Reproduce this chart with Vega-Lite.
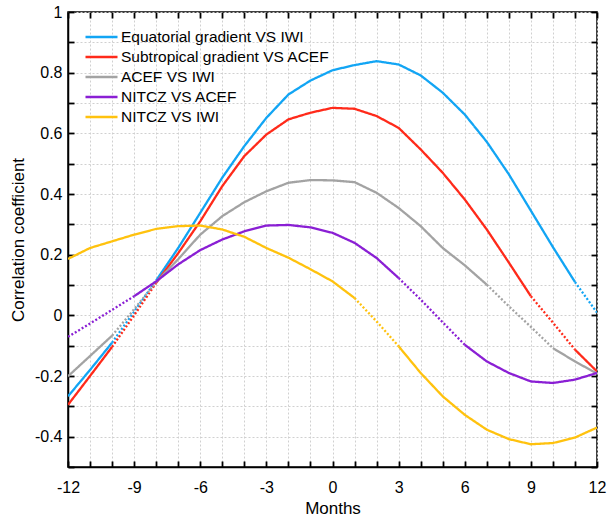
{
  "$schema": "https://vega.github.io/schema/vega-lite/v6.json",
  "width": 529,
  "height": 455,
  "autosize": "none",
  "padding": {"left": 68, "top": 12, "right": 11, "bottom": 51},
  "config": {
    "view": {"stroke": "black", "strokeWidth": 1.5},
    "font": "Liberation Sans",
    "axis": {"labelFont": "Liberation Sans", "titleFont": "Liberation Sans", "labelColor": "black", "titleColor": "black", "titleFontWeight": "normal", "domainColor": "black"}
  },
  "data": {"values": [
    {"series": "Equatorial gradient VS IWI", "seg": "E1", "sig": "s", "m": -12, "v": -0.267},
    {"series": "Equatorial gradient VS IWI", "seg": "E1", "sig": "s", "m": -11, "v": -0.18},
    {"series": "Equatorial gradient VS IWI", "seg": "E1", "sig": "s", "m": -10, "v": -0.09},
    {"series": "Equatorial gradient VS IWI", "seg": "E2", "sig": "n", "m": -10, "v": -0.09},
    {"series": "Equatorial gradient VS IWI", "seg": "E2", "sig": "n", "m": -9, "v": 0.012},
    {"series": "Equatorial gradient VS IWI", "seg": "E2", "sig": "n", "m": -8, "v": 0.115},
    {"series": "Equatorial gradient VS IWI", "seg": "E3", "sig": "s", "m": -8, "v": 0.115},
    {"series": "Equatorial gradient VS IWI", "seg": "E3", "sig": "s", "m": -7, "v": 0.222},
    {"series": "Equatorial gradient VS IWI", "seg": "E3", "sig": "s", "m": -6, "v": 0.338},
    {"series": "Equatorial gradient VS IWI", "seg": "E3", "sig": "s", "m": -5, "v": 0.454},
    {"series": "Equatorial gradient VS IWI", "seg": "E3", "sig": "s", "m": -4, "v": 0.558},
    {"series": "Equatorial gradient VS IWI", "seg": "E3", "sig": "s", "m": -3, "v": 0.651},
    {"series": "Equatorial gradient VS IWI", "seg": "E3", "sig": "s", "m": -2, "v": 0.728},
    {"series": "Equatorial gradient VS IWI", "seg": "E3", "sig": "s", "m": -1, "v": 0.774},
    {"series": "Equatorial gradient VS IWI", "seg": "E3", "sig": "s", "m": 0, "v": 0.808},
    {"series": "Equatorial gradient VS IWI", "seg": "E3", "sig": "s", "m": 1, "v": 0.825},
    {"series": "Equatorial gradient VS IWI", "seg": "E3", "sig": "s", "m": 2, "v": 0.838},
    {"series": "Equatorial gradient VS IWI", "seg": "E3", "sig": "s", "m": 3, "v": 0.827},
    {"series": "Equatorial gradient VS IWI", "seg": "E3", "sig": "s", "m": 4, "v": 0.791},
    {"series": "Equatorial gradient VS IWI", "seg": "E3", "sig": "s", "m": 5, "v": 0.734},
    {"series": "Equatorial gradient VS IWI", "seg": "E3", "sig": "s", "m": 6, "v": 0.662},
    {"series": "Equatorial gradient VS IWI", "seg": "E3", "sig": "s", "m": 7, "v": 0.572},
    {"series": "Equatorial gradient VS IWI", "seg": "E3", "sig": "s", "m": 8, "v": 0.465},
    {"series": "Equatorial gradient VS IWI", "seg": "E3", "sig": "s", "m": 9, "v": 0.345},
    {"series": "Equatorial gradient VS IWI", "seg": "E3", "sig": "s", "m": 10, "v": 0.225},
    {"series": "Equatorial gradient VS IWI", "seg": "E3", "sig": "s", "m": 11, "v": 0.11},
    {"series": "Equatorial gradient VS IWI", "seg": "E4", "sig": "n", "m": 11, "v": 0.11},
    {"series": "Equatorial gradient VS IWI", "seg": "E4", "sig": "n", "m": 12, "v": 0.009},

    {"series": "Subtropical gradient VS ACEF", "seg": "S1", "sig": "s", "m": -12, "v": -0.295},
    {"series": "Subtropical gradient VS ACEF", "seg": "S1", "sig": "s", "m": -11, "v": -0.2},
    {"series": "Subtropical gradient VS ACEF", "seg": "S1", "sig": "s", "m": -10, "v": -0.104},
    {"series": "Subtropical gradient VS ACEF", "seg": "S2", "sig": "n", "m": -10, "v": -0.104},
    {"series": "Subtropical gradient VS ACEF", "seg": "S2", "sig": "n", "m": -9, "v": 0.0},
    {"series": "Subtropical gradient VS ACEF", "seg": "S2", "sig": "n", "m": -8, "v": 0.107},
    {"series": "Subtropical gradient VS ACEF", "seg": "S3", "sig": "s", "m": -8, "v": 0.107},
    {"series": "Subtropical gradient VS ACEF", "seg": "S3", "sig": "s", "m": -7, "v": 0.205},
    {"series": "Subtropical gradient VS ACEF", "seg": "S3", "sig": "s", "m": -6, "v": 0.31},
    {"series": "Subtropical gradient VS ACEF", "seg": "S3", "sig": "s", "m": -5, "v": 0.426},
    {"series": "Subtropical gradient VS ACEF", "seg": "S3", "sig": "s", "m": -4, "v": 0.525},
    {"series": "Subtropical gradient VS ACEF", "seg": "S3", "sig": "s", "m": -3, "v": 0.596},
    {"series": "Subtropical gradient VS ACEF", "seg": "S3", "sig": "s", "m": -2, "v": 0.646},
    {"series": "Subtropical gradient VS ACEF", "seg": "S3", "sig": "s", "m": -1, "v": 0.668},
    {"series": "Subtropical gradient VS ACEF", "seg": "S3", "sig": "s", "m": 0, "v": 0.684},
    {"series": "Subtropical gradient VS ACEF", "seg": "S3", "sig": "s", "m": 1, "v": 0.681},
    {"series": "Subtropical gradient VS ACEF", "seg": "S3", "sig": "s", "m": 2, "v": 0.657},
    {"series": "Subtropical gradient VS ACEF", "seg": "S3", "sig": "s", "m": 3, "v": 0.618},
    {"series": "Subtropical gradient VS ACEF", "seg": "S3", "sig": "s", "m": 4, "v": 0.547},
    {"series": "Subtropical gradient VS ACEF", "seg": "S3", "sig": "s", "m": 5, "v": 0.47},
    {"series": "Subtropical gradient VS ACEF", "seg": "S3", "sig": "s", "m": 6, "v": 0.382},
    {"series": "Subtropical gradient VS ACEF", "seg": "S3", "sig": "s", "m": 7, "v": 0.283},
    {"series": "Subtropical gradient VS ACEF", "seg": "S3", "sig": "s", "m": 8, "v": 0.174},
    {"series": "Subtropical gradient VS ACEF", "seg": "S3", "sig": "s", "m": 9, "v": 0.063},
    {"series": "Subtropical gradient VS ACEF", "seg": "S4", "sig": "n", "m": 9, "v": 0.063},
    {"series": "Subtropical gradient VS ACEF", "seg": "S4", "sig": "n", "m": 10, "v": -0.024},
    {"series": "Subtropical gradient VS ACEF", "seg": "S4", "sig": "n", "m": 11, "v": -0.113},
    {"series": "Subtropical gradient VS ACEF", "seg": "S5", "sig": "s", "m": 11, "v": -0.113},
    {"series": "Subtropical gradient VS ACEF", "seg": "S5", "sig": "s", "m": 12, "v": -0.185},

    {"series": "ACEF VS IWI", "seg": "A1", "sig": "s", "m": -12, "v": -0.201},
    {"series": "ACEF VS IWI", "seg": "A1", "sig": "s", "m": -11, "v": -0.134},
    {"series": "ACEF VS IWI", "seg": "A1", "sig": "s", "m": -10, "v": -0.067},
    {"series": "ACEF VS IWI", "seg": "A2", "sig": "n", "m": -10, "v": -0.067},
    {"series": "ACEF VS IWI", "seg": "A2", "sig": "n", "m": -9, "v": 0.02},
    {"series": "ACEF VS IWI", "seg": "A2", "sig": "n", "m": -8, "v": 0.11},
    {"series": "ACEF VS IWI", "seg": "A3", "sig": "s", "m": -8, "v": 0.11},
    {"series": "ACEF VS IWI", "seg": "A3", "sig": "s", "m": -7, "v": 0.185},
    {"series": "ACEF VS IWI", "seg": "A3", "sig": "s", "m": -6, "v": 0.266},
    {"series": "ACEF VS IWI", "seg": "A3", "sig": "s", "m": -5, "v": 0.327},
    {"series": "ACEF VS IWI", "seg": "A3", "sig": "s", "m": -4, "v": 0.373},
    {"series": "ACEF VS IWI", "seg": "A3", "sig": "s", "m": -3, "v": 0.409},
    {"series": "ACEF VS IWI", "seg": "A3", "sig": "s", "m": -2, "v": 0.437},
    {"series": "ACEF VS IWI", "seg": "A3", "sig": "s", "m": -1, "v": 0.446},
    {"series": "ACEF VS IWI", "seg": "A3", "sig": "s", "m": 0, "v": 0.445},
    {"series": "ACEF VS IWI", "seg": "A3", "sig": "s", "m": 1, "v": 0.439},
    {"series": "ACEF VS IWI", "seg": "A3", "sig": "s", "m": 2, "v": 0.404},
    {"series": "ACEF VS IWI", "seg": "A3", "sig": "s", "m": 3, "v": 0.354},
    {"series": "ACEF VS IWI", "seg": "A3", "sig": "s", "m": 4, "v": 0.294},
    {"series": "ACEF VS IWI", "seg": "A3", "sig": "s", "m": 5, "v": 0.222},
    {"series": "ACEF VS IWI", "seg": "A3", "sig": "s", "m": 6, "v": 0.165},
    {"series": "ACEF VS IWI", "seg": "A3", "sig": "s", "m": 7, "v": 0.101},
    {"series": "ACEF VS IWI", "seg": "A4", "sig": "n", "m": 7, "v": 0.101},
    {"series": "ACEF VS IWI", "seg": "A4", "sig": "n", "m": 8, "v": 0.03},
    {"series": "ACEF VS IWI", "seg": "A4", "sig": "n", "m": 9, "v": -0.038},
    {"series": "ACEF VS IWI", "seg": "A4", "sig": "n", "m": 10, "v": -0.108},
    {"series": "ACEF VS IWI", "seg": "A5", "sig": "s", "m": 10, "v": -0.108},
    {"series": "ACEF VS IWI", "seg": "A5", "sig": "s", "m": 11, "v": -0.152},
    {"series": "ACEF VS IWI", "seg": "A5", "sig": "s", "m": 12, "v": -0.192},

    {"series": "NITCZ VS ACEF", "seg": "N1", "sig": "n", "m": -12, "v": -0.071},
    {"series": "NITCZ VS ACEF", "seg": "N1", "sig": "n", "m": -11, "v": -0.027},
    {"series": "NITCZ VS ACEF", "seg": "N1", "sig": "n", "m": -10, "v": 0.018},
    {"series": "NITCZ VS ACEF", "seg": "N1", "sig": "n", "m": -9, "v": 0.063},
    {"series": "NITCZ VS ACEF", "seg": "N2", "sig": "s", "m": -9, "v": 0.063},
    {"series": "NITCZ VS ACEF", "seg": "N2", "sig": "s", "m": -8, "v": 0.112},
    {"series": "NITCZ VS ACEF", "seg": "N2", "sig": "s", "m": -7, "v": 0.168},
    {"series": "NITCZ VS ACEF", "seg": "N2", "sig": "s", "m": -6, "v": 0.215},
    {"series": "NITCZ VS ACEF", "seg": "N2", "sig": "s", "m": -5, "v": 0.25},
    {"series": "NITCZ VS ACEF", "seg": "N2", "sig": "s", "m": -4, "v": 0.277},
    {"series": "NITCZ VS ACEF", "seg": "N2", "sig": "s", "m": -3, "v": 0.296},
    {"series": "NITCZ VS ACEF", "seg": "N2", "sig": "s", "m": -2, "v": 0.298},
    {"series": "NITCZ VS ACEF", "seg": "N2", "sig": "s", "m": -1, "v": 0.29},
    {"series": "NITCZ VS ACEF", "seg": "N2", "sig": "s", "m": 0, "v": 0.272},
    {"series": "NITCZ VS ACEF", "seg": "N2", "sig": "s", "m": 1, "v": 0.239},
    {"series": "NITCZ VS ACEF", "seg": "N2", "sig": "s", "m": 2, "v": 0.189},
    {"series": "NITCZ VS ACEF", "seg": "N2", "sig": "s", "m": 3, "v": 0.123},
    {"series": "NITCZ VS ACEF", "seg": "N3", "sig": "n", "m": 3, "v": 0.123},
    {"series": "NITCZ VS ACEF", "seg": "N3", "sig": "n", "m": 4, "v": 0.052},
    {"series": "NITCZ VS ACEF", "seg": "N3", "sig": "n", "m": 5, "v": -0.023},
    {"series": "NITCZ VS ACEF", "seg": "N3", "sig": "n", "m": 6, "v": -0.097},
    {"series": "NITCZ VS ACEF", "seg": "N4", "sig": "s", "m": 6, "v": -0.097},
    {"series": "NITCZ VS ACEF", "seg": "N4", "sig": "s", "m": 7, "v": -0.152},
    {"series": "NITCZ VS ACEF", "seg": "N4", "sig": "s", "m": 8, "v": -0.19},
    {"series": "NITCZ VS ACEF", "seg": "N4", "sig": "s", "m": 9, "v": -0.218},
    {"series": "NITCZ VS ACEF", "seg": "N4", "sig": "s", "m": 10, "v": -0.223},
    {"series": "NITCZ VS ACEF", "seg": "N4", "sig": "s", "m": 11, "v": -0.212},
    {"series": "NITCZ VS ACEF", "seg": "N4", "sig": "s", "m": 12, "v": -0.19},

    {"series": "NITCZ VS IWI", "seg": "I1", "sig": "s", "m": -12, "v": 0.186},
    {"series": "NITCZ VS IWI", "seg": "I1", "sig": "s", "m": -11, "v": 0.222},
    {"series": "NITCZ VS IWI", "seg": "I1", "sig": "s", "m": -10, "v": 0.244},
    {"series": "NITCZ VS IWI", "seg": "I1", "sig": "s", "m": -9, "v": 0.266},
    {"series": "NITCZ VS IWI", "seg": "I1", "sig": "s", "m": -8, "v": 0.285},
    {"series": "NITCZ VS IWI", "seg": "I1", "sig": "s", "m": -7, "v": 0.294},
    {"series": "NITCZ VS IWI", "seg": "I1", "sig": "s", "m": -6, "v": 0.296},
    {"series": "NITCZ VS IWI", "seg": "I1", "sig": "s", "m": -5, "v": 0.283},
    {"series": "NITCZ VS IWI", "seg": "I1", "sig": "s", "m": -4, "v": 0.259},
    {"series": "NITCZ VS IWI", "seg": "I1", "sig": "s", "m": -3, "v": 0.222},
    {"series": "NITCZ VS IWI", "seg": "I1", "sig": "s", "m": -2, "v": 0.19},
    {"series": "NITCZ VS IWI", "seg": "I1", "sig": "s", "m": -1, "v": 0.152},
    {"series": "NITCZ VS IWI", "seg": "I1", "sig": "s", "m": 0, "v": 0.112},
    {"series": "NITCZ VS IWI", "seg": "I1", "sig": "s", "m": 1, "v": 0.057},
    {"series": "NITCZ VS IWI", "seg": "I2", "sig": "n", "m": 1, "v": 0.057},
    {"series": "NITCZ VS IWI", "seg": "I2", "sig": "n", "m": 2, "v": -0.02},
    {"series": "NITCZ VS IWI", "seg": "I2", "sig": "n", "m": 3, "v": -0.102},
    {"series": "NITCZ VS IWI", "seg": "I3", "sig": "s", "m": 3, "v": -0.102},
    {"series": "NITCZ VS IWI", "seg": "I3", "sig": "s", "m": 4, "v": -0.19},
    {"series": "NITCZ VS IWI", "seg": "I3", "sig": "s", "m": 5, "v": -0.267},
    {"series": "NITCZ VS IWI", "seg": "I3", "sig": "s", "m": 6, "v": -0.328},
    {"series": "NITCZ VS IWI", "seg": "I3", "sig": "s", "m": 7, "v": -0.377},
    {"series": "NITCZ VS IWI", "seg": "I3", "sig": "s", "m": 8, "v": -0.408},
    {"series": "NITCZ VS IWI", "seg": "I3", "sig": "s", "m": 9, "v": -0.425},
    {"series": "NITCZ VS IWI", "seg": "I3", "sig": "s", "m": 10, "v": -0.421},
    {"series": "NITCZ VS IWI", "seg": "I3", "sig": "s", "m": 11, "v": -0.403},
    {"series": "NITCZ VS IWI", "seg": "I3", "sig": "s", "m": 12, "v": -0.37}
  ]},
  "layer": [
    {
      "mark": {"type": "line", "strokeWidth": 2.3, "clip": true},
      "encoding": {
        "x": {"field": "m", "type": "quantitative",
          "scale": {"domain": [-12, 12], "nice": false, "zero": false},
          "axis": {"orient": "bottom", "title": "Months", "titleFontSize": 17, "titlePadding": 5,
            "values": [-12,-11,-10,-9,-8,-7,-6,-5,-4,-3,-2,-1,0,1,2,3,4,5,6,7,8,9,10,11,12],
            "labelExpr": "datum.value % 3 === 0 ? '' + datum.value : ''",
            "labelFontSize": 16, "labelPadding": 18, "labelOverlap": false, "labelFlush": false,
            "ticks": true, "tickSize": -6, "tickColor": "black", "tickWidth": 1.8, "domainWidth": 1.5,
            "grid": true, "gridDash": [2, 2], "gridColor": "#d0d0d0", "gridWidth": 1}},
        "y": {"field": "v", "type": "quantitative",
          "scale": {"domain": [-0.5, 1], "nice": false, "zero": false},
          "axis": {"orient": "left", "title": "Correlation coefficient", "titleFontSize": 17, "titlePadding": 7,
            "values": [-0.5,-0.4,-0.3,-0.2,-0.1,0,0.1,0.2,0.3,0.4,0.5,0.6,0.7,0.8,0.9,1],
            "labelExpr": "abs(round(datum.value*10)) % 2 === 0 ? '' + round(datum.value*10)/10 : ''",
            "labelFontSize": 16, "labelPadding": 12, "labelOverlap": false, "labelFlush": false,
            "ticks": true, "tickSize": -6, "tickColor": "black", "tickWidth": 1.8, "domainWidth": 1.5,
            "grid": true, "gridDash": [2, 2], "gridColor": "#d0d0d0", "gridWidth": 1}},
        "color": {"field": "series", "type": "nominal",
          "scale": {"domain": ["Equatorial gradient VS IWI", "Subtropical gradient VS ACEF", "ACEF VS IWI", "NITCZ VS ACEF", "NITCZ VS IWI"],
            "range": ["#12A5F4", "#FF2A1A", "#A3A3A3", "#8A1FD4", "#FFC20E"]},
          "legend": {"title": null, "orient": "none", "legendX": 24, "legendY": 15.5,
            "symbolType": "M-2,0H2", "symbolSize": 256, "symbolStrokeWidth": 2.5,
            "labelFontSize": 15.5, "labelColor": "black", "labelLimit": 400, "labelOffset": 10, "rowPadding": 2}},
        "strokeDash": {"field": "sig", "type": "nominal",
          "scale": {"domain": ["s", "n"], "range": [[1, 0], [2, 2]]}, "legend": null},
        "detail": {"field": "seg"}
      }
    },
    {
      "mark": {"type": "line", "opacity": 0},
      "encoding": {
        "x": {"field": "m", "type": "quantitative",
          "axis": {"orient": "top", "title": null, "labels": false, "grid": false, "domain": false, "offset": -6,
            "values": [-12,-11,-10,-9,-8,-7,-6,-5,-4,-3,-2,-1,0,1,2,3,4,5,6,7,8,9,10,11,12],
            "ticks": true, "tickSize": 6, "tickWidth": 1.8, "tickColor": "black"}},
        "y": {"field": "v", "type": "quantitative",
          "axis": {"orient": "right", "title": null, "labels": false, "grid": false, "domain": false, "offset": -6,
            "values": [-0.5,-0.4,-0.3,-0.2,-0.1,0,0.1,0.2,0.3,0.4,0.5,0.6,0.7,0.8,0.9,1],
            "ticks": true, "tickSize": 6, "tickWidth": 1.8, "tickColor": "black"}},
        "detail": {"field": "seg"}
      }
    }
  ],
  "resolve": {"axis": {"x": "independent", "y": "independent"}}
}
